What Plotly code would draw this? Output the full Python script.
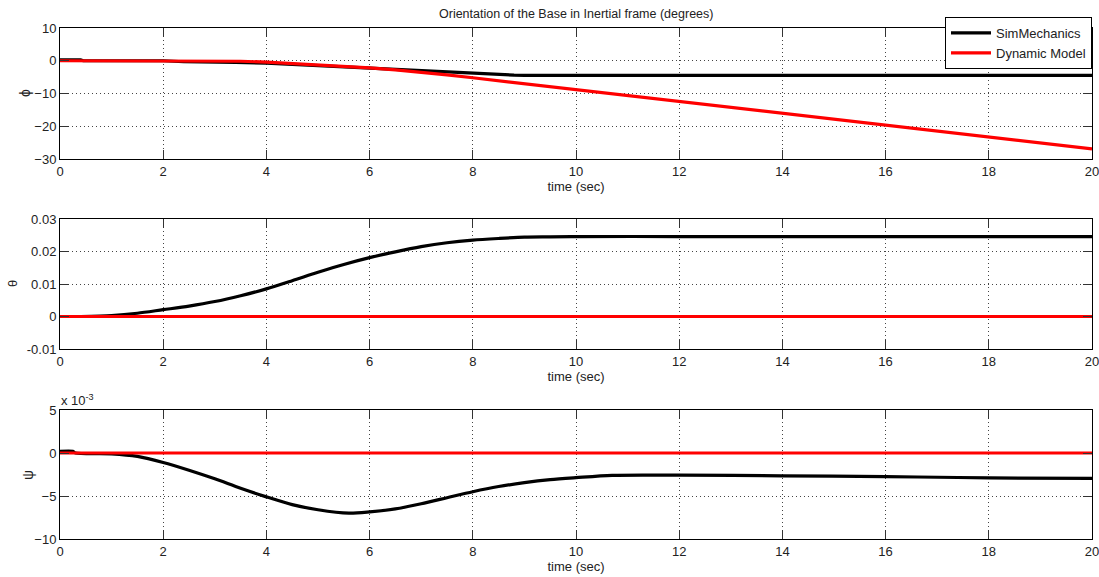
import plotly.graph_objects as go

# ---- data -------------------------------------------------------------
# phi (degrees)
t_phi_sim = [0, 0.4, 0.45, 1, 2, 2.4, 3, 3.4, 4, 4.5, 5, 5.5, 6, 6.5, 7, 7.5,
             8, 8.5, 8.8, 9, 10, 12, 14, 16, 18, 20]
phi_sim = [0.3, 0.3, 0.0, 0.0, 0.0, -0.3, -0.3, -0.5, -0.7, -1.1, -1.5, -1.9,
           -2.3, -2.8, -3.2, -3.6, -4.0, -4.3, -4.4, -4.45, -4.45, -4.45, -4.45,
           -4.45, -4.45, -4.45]
t_phi_dyn = [0, 1, 2, 3, 3.5, 4, 4.5, 5, 5.5, 6, 6.5, 7, 7.5, 8, 9, 10, 12, 14,
             16, 18, 20]
phi_dyn = [0.0, 0.0, 0.0, -0.05, -0.15, -0.4, -0.8, -1.2, -1.7, -2.2, -2.8, -3.5,
           -4.3, -5.2, -7.0, -8.9, -12.4, -16.0, -19.6, -23.3, -26.9]

# theta (degrees)
t_theta_sim = [0.4, 1, 1.5, 2, 2.5, 3, 3.5, 4, 4.5, 5, 5.5, 6, 6.5, 7, 7.5, 8,
               8.5, 9, 9.5, 10, 12, 14, 16, 18, 20]
theta_sim = [0.0, 0.0003, 0.0010, 0.0021, 0.0032, 0.0046, 0.0064, 0.0085, 0.0110,
             0.0136, 0.0160, 0.0181, 0.0199, 0.0215, 0.0227, 0.0235, 0.0240,
             0.0244, 0.0245, 0.0246, 0.0246, 0.0246, 0.0246, 0.0246, 0.0246]
t_theta_dyn = [0, 20]
theta_dyn = [0.0, 0.0]

# psi (units of 1e-3 degrees)
t_psi_sim = [0, 0.25, 0.3, 1, 1.5, 2, 2.5, 3, 3.5, 4, 4.5, 5, 5.6, 6, 6.5, 7,
             7.5, 8, 8.5, 9, 9.5, 10, 10.7, 12, 14, 16, 17.4, 18, 20]
psi_sim = [0.2, 0.2, 0.0, -0.1, -0.4, -1.1, -2.0, -3.0, -4.1, -5.1, -6.0, -6.6,
           -7.0, -6.85, -6.5, -5.9, -5.2, -4.5, -3.9, -3.45, -3.1, -2.87, -2.6,
           -2.58, -2.65, -2.75, -2.85, -2.9, -2.95]
t_psi_dyn = [0, 20]
psi_dyn = [0.0, 0.0]

x_ticks = [0, 2, 4, 6, 8, 10, 12, 14, 16, 18, 20]
phi_ticks = [-30, -20, -10, 0, 10]
theta_ticks = [-0.01, 0, 0.01, 0.02, 0.03]
theta_ticktext = ["-0.01", "0", "0.01", "0.02", "0.03"]
psi_ticks = [-10, -5, 0, 5]

# ---- figure -------------------------------------------------------------
W, H = 1099, 577
BLACK = "#000000"
RED = "#ff0000"
TXT = "#222222"
FONT = "Liberation Sans, Arial, sans-serif"

fig = go.Figure()

def add(t, y, color, name, axis, show, shape="linear"):
    fig.add_trace(go.Scatter(
        x=t, y=y, mode="lines", name=name, showlegend=show,
        line=dict(color=color, width=3.2, shape=shape, smoothing=0.8),
        xaxis="x" + axis, yaxis="y" + axis,
    ))

add(t_phi_sim, phi_sim, BLACK, "SimMechanics", "", True)
add(t_phi_dyn, phi_dyn, RED, "Dynamic Model", "", True)
add(t_theta_sim, theta_sim, BLACK, "SimMechanics", "2", False, "spline")
add(t_theta_dyn, theta_dyn, RED, "Dynamic Model", "2", False)
add(t_psi_sim, psi_sim, BLACK, "SimMechanics", "3", False, "spline")
add(t_psi_dyn, psi_dyn, RED, "Dynamic Model", "3", False)

x0, x1 = 60 / W, 1092 / W

def ydom(top_px, bot_px):
    return [1 - bot_px / H, 1 - top_px / H]

common = dict(
    showline=True, linecolor=BLACK, linewidth=1, mirror="allticks",
    ticks="inside", ticklen=9, tickcolor="#333333", tickwidth=1,
    showgrid=True, gridcolor="#444444", griddash="1px,3px", gridwidth=1,
    zeroline=False, tickfont=dict(family=FONT, size=13, color=TXT),
    ticklabeloverflow="allow", automargin=False,
)

def xax(anchor):
    return dict(common, domain=[x0, x1], range=[0, 20], tickvals=x_ticks,
                anchor=anchor,
                title=dict(text="time (sec)", standoff=3,
                           font=dict(family=FONT, size=13, color=TXT)))

fig.update_layout(
    width=W, height=H,
    margin=dict(l=0, r=0, t=0, b=0),
    paper_bgcolor="white", plot_bgcolor="white",
    xaxis=xax("y"),
    xaxis2=xax("y2"),
    xaxis3=xax("y3"),
    yaxis=dict(common, domain=ydom(28, 159), range=[-30, 10],
               tickvals=phi_ticks, anchor="x"),
    yaxis2=dict(common, domain=ydom(219, 349), range=[-0.01, 0.03],
                tickvals=theta_ticks, ticktext=theta_ticktext, anchor="x2"),
    yaxis3=dict(common, domain=ydom(410, 539), range=[-10, 5],
                tickvals=psi_ticks, anchor="x3"),
    legend=dict(
        x=1092 / W, xanchor="right", y=1 - 17 / H, yanchor="top",
        bgcolor="white", bordercolor=BLACK, borderwidth=1,
        font=dict(family=FONT, size=13, color=TXT),
        tracegroupgap=0, itemwidth=40,
    ),
    showlegend=True,
)

annots = [
    dict(text="Orientation of the Base in Inertial frame (degrees)",
         x=576 / W, y=1 - 14 / H, size=12.5, angle=0),
    dict(text="ϕ", x=25 / W, y=1 - 93 / H, size=14, angle=-90),
    dict(text="θ", x=12 / W, y=1 - 284 / H, size=13, angle=-90),
    dict(text="ψ", x=28 / W, y=1 - 475 / H, size=14, angle=-90),
]
for a in annots:
    fig.add_annotation(text=a["text"], x=a["x"], y=a["y"], xref="paper",
                       yref="paper", showarrow=False, textangle=a["angle"],
                       xanchor="center", yanchor="middle",
                       font=dict(family=FONT, size=a["size"], color=TXT))

fig.add_annotation(text="x 10<sup>-3</sup>", x=59 / W, y=1 - 400 / H,
                   xref="paper", yref="paper", showarrow=False,
                   xanchor="left", yanchor="middle",
                   font=dict(family=FONT, size=13, color=TXT))

fig.write_html("out.html")
